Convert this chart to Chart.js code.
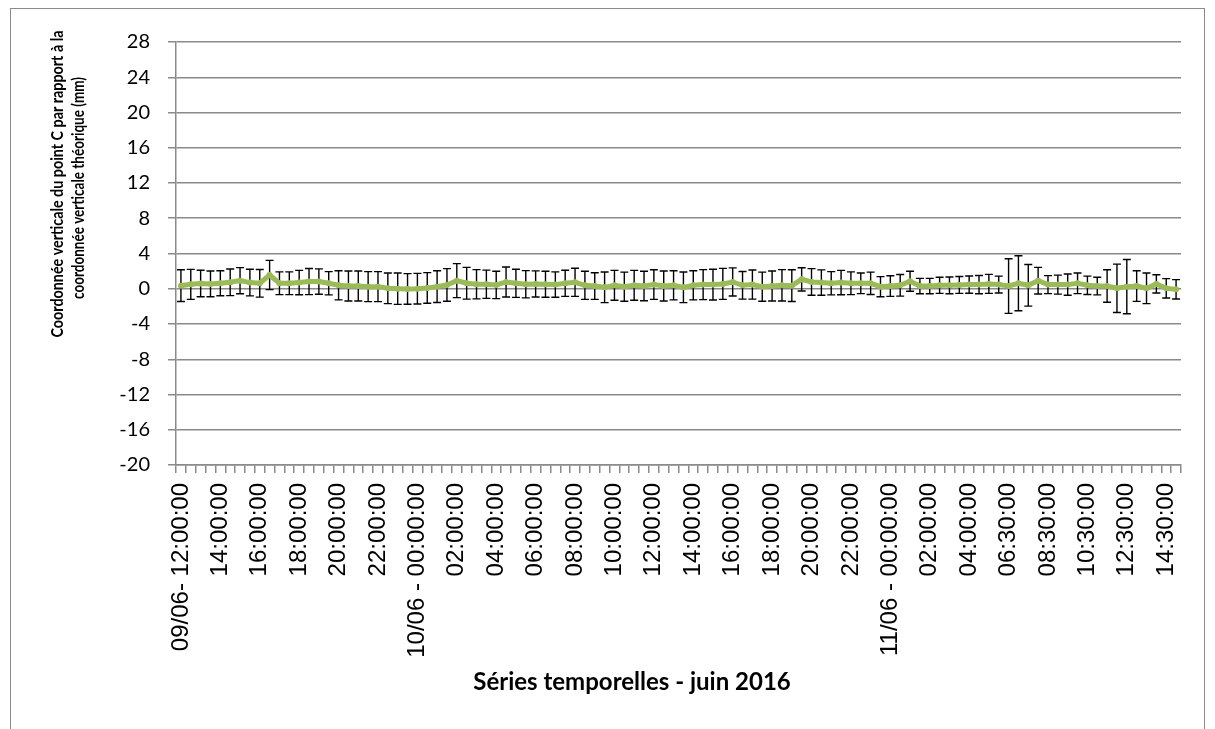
<!DOCTYPE html>
<html>
<head>
<meta charset="utf-8">
<script src="https://cdn.jsdelivr.net/npm/chart.js@4.4.0/dist/chart.umd.min.js"></script>
<style>
  html, body { margin: 0; padding: 0; background: #fff; }
  #wrap { position: relative; width: 1215px; height: 729px; overflow: hidden; }
  #frame { position: absolute; left: 10px; top: 8px; width: 1195px; height: 800px; border: 1px solid #8a8a8a; box-sizing: border-box; pointer-events: none; }
  canvas { position: absolute; left: 0; top: 0; }
</style>
</head>
<body>
<div id="wrap">
  <canvas id="myChart" width="1215" height="729"></canvas>
  <div id="frame"></div>
</div>
<script>
// categories: 30-minute steps, 09/06 12:00 -> 11/06 15:00
const labels = [
  '09/06- 12:00:00', '12:30:00', '13:00:00', '13:30:00', '14:00:00', '14:30:00', '15:00:00', '15:30:00',
  '16:00:00', '16:30:00', '17:00:00', '17:30:00', '18:00:00', '18:30:00', '19:00:00', '19:30:00',
  '20:00:00', '20:30:00', '21:00:00', '21:30:00', '22:00:00', '22:30:00', '23:00:00', '23:30:00',
  '10/06 - 00:00:00', '00:30:00', '01:00:00', '01:30:00', '02:00:00', '02:30:00', '03:00:00', '03:30:00',
  '04:00:00', '04:30:00', '05:00:00', '05:30:00', '06:00:00', '06:30:00', '07:00:00', '07:30:00',
  '08:00:00', '08:30:00', '09:00:00', '09:30:00', '10:00:00', '10:30:00', '11:00:00', '11:30:00',
  '12:00:00', '12:30:00', '13:00:00', '13:30:00', '14:00:00', '14:30:00', '15:00:00', '15:30:00',
  '16:00:00', '16:30:00', '17:00:00', '17:30:00', '18:00:00', '18:30:00', '19:00:00', '19:30:00',
  '20:00:00', '20:30:00', '21:00:00', '21:30:00', '22:00:00', '22:30:00', '23:00:00', '23:30:00',
  '11/06 - 00:00:00', '00:30:00', '01:00:00', '01:30:00', '02:00:00', '02:30:00', '03:00:00', '03:30:00',
  '04:00:00', '04:30:00', '05:00:00', '06:00:00', '06:30:00', '07:00:00', '07:30:00', '08:00:00',
  '08:30:00', '09:00:00', '09:30:00', '10:00:00', '10:30:00', '11:00:00', '11:30:00', '12:00:00',
  '12:30:00', '13:00:00', '13:30:00', '14:00:00', '14:30:00', '15:00:00'
];

// vertical coordinate of point C (mm)
const values = [
  0.35, 0.5, 0.6, 0.55, 0.62, 0.73, 0.92, 0.7, 0.62, 1.56,
  0.62, 0.62, 0.7, 0.81, 0.81, 0.62, 0.39, 0.31, 0.31, 0.24,
  0.24, 0.05, 0.01, -0.02, 0.01, 0.09, 0.24, 0.43, 0.92, 0.62,
  0.51, 0.51, 0.43, 0.77, 0.62, 0.51, 0.55, 0.51, 0.47, 0.62,
  0.73, 0.39, 0.31, 0.16, 0.39, 0.24, 0.39, 0.31, 0.47, 0.31,
  0.39, 0.16, 0.39, 0.47, 0.47, 0.55, 0.77, 0.39, 0.47, 0.24,
  0.31, 0.39, 0.35, 1.07, 0.77, 0.7, 0.62, 0.7, 0.62, 0.62,
  0.62, 0.24, 0.31, 0.39, 0.85, 0.31, 0.31, 0.39, 0.39, 0.43,
  0.47, 0.47, 0.55, 0.47, 0.31, 0.62, 0.39, 0.92, 0.47, 0.47,
  0.47, 0.62, 0.39, 0.31, 0.31, 0.05, 0.24, 0.31, 0.05, 0.55,
  0.05, -0.07
];

// error bar half-length (mm)
const errors = [
  1.8, 1.7, 1.5, 1.46, 1.42, 1.51, 1.48, 1.51, 1.57, 1.66,
  1.29, 1.29, 1.38, 1.48, 1.44, 1.32, 1.65, 1.7, 1.7, 1.7,
  1.7, 1.74, 1.78, 1.74, 1.74, 1.74, 1.8, 1.85, 1.93, 1.8,
  1.66, 1.6, 1.55, 1.7, 1.6, 1.55, 1.48, 1.48, 1.44, 1.48,
  1.6, 1.6, 1.51, 1.74, 1.7, 1.65, 1.7, 1.68, 1.68, 1.7,
  1.65, 1.74, 1.65, 1.7, 1.74, 1.76, 1.6, 1.57, 1.65, 1.65,
  1.7, 1.78, 1.8, 1.32, 1.51, 1.44, 1.32, 1.38, 1.29, 1.17,
  1.27, 1.14, 1.17, 1.23, 1.14, 0.87, 0.87, 0.91, 0.95, 0.96,
  0.98, 1.04, 1.08, 0.96, 3.1, 3.12, 2.36, 1.51, 1.02, 1.08,
  1.21, 1.17, 1.04, 1.0, 1.85, 2.74, 3.08, 1.74, 1.74, 1.04,
  1.1, 1.1
];

const xTitle = 'Séries temporelles - juin 2016';
const yTitle = ['Coordonnée verticale du point C par rapport à la', 'coordonnée verticale théorique (mm)'];

const errorBars = {
  id: 'errorBars',
  beforeDatasetsDraw(chart) {
    const ctx = chart.ctx;
    const y = chart.scales.y;
    const meta = chart.getDatasetMeta(0);
    ctx.save();
    ctx.strokeStyle = '#000';
    ctx.lineWidth = 1.4;
    meta.data.forEach((pt, i) => {
      const top = y.getPixelForValue(values[i] + errors[i]);
      const bot = y.getPixelForValue(values[i] - errors[i]);
      ctx.beginPath();
      ctx.moveTo(pt.x, top);
      ctx.lineTo(pt.x, bot);
      ctx.moveTo(pt.x - 4, top);
      ctx.lineTo(pt.x + 4, top);
      ctx.moveTo(pt.x - 4, bot);
      ctx.lineTo(pt.x + 4, bot);
      ctx.stroke();
    });
    ctx.restore();
  }
};

const axisTitles = {
  id: 'axisTitles',
  afterDraw(chart) {
    const ctx = chart.ctx;
    ctx.save();
    ctx.fillStyle = '#000';
    ctx.textAlign = 'center';
    ctx.textBaseline = 'middle';
    ctx.font = 'bold 24px Lato';
    ctx.fillText(xTitle, 632, 682, 326);
    ctx.font = 'bold 17px Lato';
    ctx.translate(58, 184);
    ctx.rotate(-Math.PI / 2);
    ctx.fillText(yTitle[0], 0, 0, 307);
    ctx.fillText(yTitle[1], -4, 21, 222);
    ctx.restore();
  }
};

new Chart(document.getElementById('myChart'), {
  type: 'line',
  data: {
    labels: labels,
    datasets: [
      {
        data: values,
        borderColor: '#9bbb59',
        backgroundColor: '#9bbb59',
        borderWidth: 5,
        pointRadius: 3,
        pointBorderWidth: 0,
        tension: 0,
      },
    ],
  },
  options: {
    responsive: false,
    animation: false,
    devicePixelRatio: 1,
    layout: { padding: { left: 0, right: 25, top: 42, bottom: 0 } },
    plugins: { legend: { display: false }, tooltip: { enabled: false } },
    scales: {
      x: {
        offset: true,
        grid: { offset: true, drawOnChartArea: false, tickLength: 8, color: '#8a8a8a', lineWidth: 1.5 },
        border: { color: '#8a8a8a', width: 1.5 },
        ticks: {
          autoSkip: false,
          minRotation: 90,
          maxRotation: 90,
          padding: 10,
          color: '#000',
          font: { family: 'Liberation Sans', size: 24 },
          callback: function (value, index) {
            return index % 4 === 0 ? labels[index] : '';
          },
        },
        afterFit: function (scale) {
          scale.height = 264;
        },
      },
      y: {
        min: -20,
        max: 28,
        ticks: { stepSize: 4, padding: 18, color: '#000', font: { family: 'Lato', size: 20 } },
        grid: { color: '#8a8a8a', lineWidth: 1.5, tickLength: 8 },
        border: { color: '#8a8a8a', width: 1.5 },
        afterFit: function (scale) {
          scale.width = 176;
        },
      },
    },
  },
  plugins: [errorBars, axisTitles],
});
</script>
</body>
</html>
